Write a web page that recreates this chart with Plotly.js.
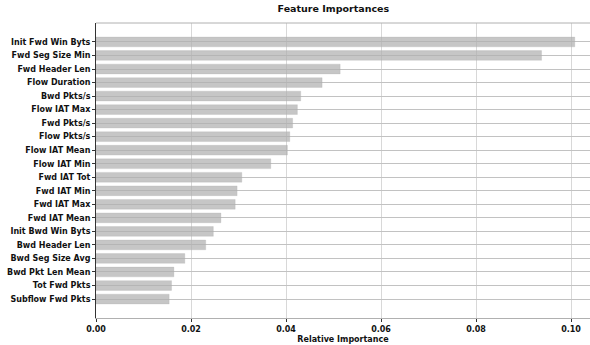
<!DOCTYPE html>
<html><head><meta charset="utf-8">
<script src="https://cdn.plot.ly/plotly-3.0.1.min.js"></script>
<style>html,body{margin:0;padding:0;background:#fff}#chart{width:590px;height:345px}</style>
</head><body><div id="chart"></div>
<script>
const features = ["Init Fwd Win Byts","Fwd Seg Size Min","Fwd Header Len","Flow Duration","Bwd Pkts/s","Flow IAT Max","Fwd Pkts/s","Flow Pkts/s","Flow IAT Mean","Flow IAT Min","Fwd IAT Tot","Fwd IAT Min","Fwd IAT Max","Fwd IAT Mean","Init Bwd Win Byts","Bwd Header Len","Bwd Seg Size Avg","Bwd Pkt Len Mean","Tot Fwd Pkts","Subflow Fwd Pkts"];
const importances = [0.1008,0.0938,0.0514,0.0476,0.0431,0.0424,0.0414,0.0408,0.0403,0.0368,0.0307,0.0297,0.0293,0.0263,0.0247,0.0231,0.0187,0.0164,0.0159,0.0154];
const xTicks = [0,0.02,0.04,0.06,0.08,0.10];
const xTickLabels = ["0.00","0.02","0.04","0.06","0.08","0.10"];

const yCats = features.slice().reverse();
const xVals = importances.slice().reverse();
const tf = {family:"DejaVu Sans", size:8, color:"#111", weight:"bold"};

Plotly.newPlot("chart",[{
  type:"bar", orientation:"h", y:yCats, x:xVals,
  marker:{color:"rgba(176,176,176,0.72)", line:{color:"rgba(176,176,176,0.5)", width:0.5}},
  width:0.72, hoverinfo:"skip"
}],{
  width:590, height:345,
  margin:{l:96,r:0,t:23,b:27},
  paper_bgcolor:"#fff", plot_bgcolor:"#fff",
  font:tf,
  showlegend:false,
  title:{text:"Feature Importances", font:{family:"DejaVu Sans", size:9.5, color:"#111", weight:"bold"}, x:0.565, xanchor:"center", y:0.985, yanchor:"top"},
  xaxis:{range:[0,0.104], tickvals:xTicks, ticktext:xTickLabels, showgrid:true, gridcolor:"#d8d8d8", gridwidth:1,
    zeroline:false, showline:true, linecolor:"#b0b0b0", linewidth:1, ticks:"outside", ticklen:3, tickcolor:"#333",
    tickfont:tf,
    title:{text:"Relative Importance", font:tf, standoff:3}},
  yaxis:{type:"category", categoryorder:"array", categoryarray:yCats, range:[-1.4,20.4], showgrid:true, gridcolor:"#c2c2c2", gridwidth:1,
    showline:true, linecolor:"#333", linewidth:1, ticks:"outside", ticklen:3, tickcolor:"#333",
    tickfont:tf},
  shapes:[{type:"line", xref:"paper", yref:"paper", x0:0, x1:1, y0:1, y1:1, line:{color:"#b0b0b0", width:1}}]
},{displayModeBar:false, staticPlot:true});
</script></body></html>
